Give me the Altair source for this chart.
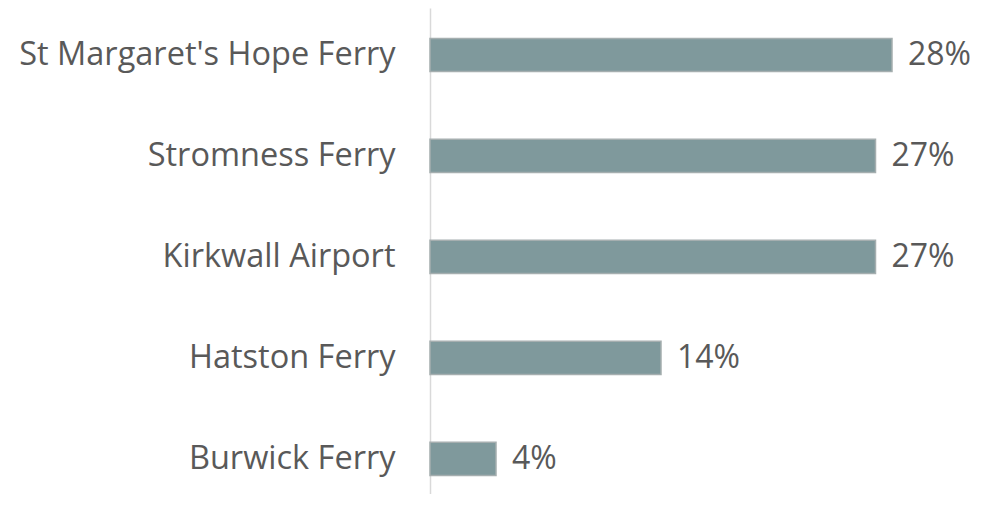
import altair as alt
import pandas as pd

categories = ["St Margaret's Hope Ferry", "Stromness Ferry", "Kirkwall Airport", "Hatston Ferry", "Burwick Ferry"]
values = [28, 27, 27, 14, 4]
labels = ["28%", "27%", "27%", "14%", "4%"]

df = pd.DataFrame({"cat": categories, "val": values, "lab": labels})

FONT = "Open Sans"

y = alt.Y("cat:N", sort=categories,
          scale=alt.Scale(paddingInner=0.673, paddingOuter=0.2426, align=0.62),
          axis=alt.Axis(title=None, ticks=False, domainColor="#D9D9D9", domainWidth=1.5,
                        labelFont=FONT, labelFontSize=32.5, labelColor="#595959",
                        labelPadding=35, labelLimit=500))
x = alt.X("val:Q", scale=alt.Scale(domain=[0, 30]), axis=None)

bars = alt.Chart(df).mark_bar(color="#7F999C", stroke="#A5AEAF", strokeWidth=1.5).encode(x=x, y=y)
text = alt.Chart(df).mark_text(align="left", baseline="middle", dx=16, font=FONT,
                               fontSize=32, color="#595959").encode(x=x, y=y, text="lab:N")

chart = (bars + text).properties(
    width=495, height=486,
    autosize=alt.AutoSizeParams(type="none"),
    padding={"left": 422, "top": 0, "right": 48, "bottom": 0},
).configure_view(stroke=None)

chart.save("out.html", embed_options={"renderer": "svg", "actions": False})
